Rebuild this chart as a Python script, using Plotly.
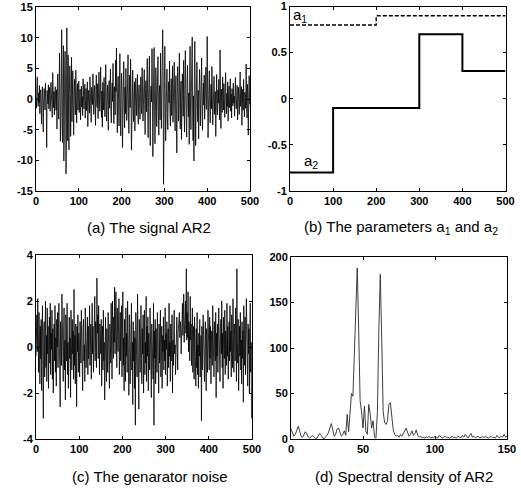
import plotly.graph_objects as go

# ---------------- data ----------------
signal_ar2 = [
    0.3, -1.5, 2.1, 3.6, 0.4, -1.2, 1.0, -0.6, 2.2, -2.4, 0.8, 1.5, -0.9, -4.1, 0.6, 2.0, -1.1, -5.4, -0.3, 1.7, 0.9, -1.8, 2.6, 0.2, -1.3,
    -7.9, 1.4, 0.6, -0.8, 2.3, -1.6, 0.5, 1.9, -2.0, -0.4, 2.7, 0.9, -1.7, -3.0, 4.3, 0.5, -1.4, 1.2, -2.6, 0.3, 2.0, -0.9, -1.9, 1.5, -4.9,
    2.4, 4.1, -1.0, -3.3, 0.8, 7.5, 1.2, -6.9, -2.8, 3.4, 11.3, -4.3, -7.1, 2.9, 8.7, -10.1, -6.2, 5.5, 7.8, 2.1, -12.2, -8.4, 11.6, 3.5, -6.8,
    7.2, -1.5, -8.3, 0.9, 5.4, 2.2, -6.1, -1.0, 6.8, -3.7, -0.4, 4.6, -2.1, -5.9, 1.3, 3.2, -0.8, -2.6, 4.7, 0.6, -3.9, 1.1, 2.5, -1.8, -0.3,
    2.9, -2.2, -0.7, 1.6, -3.4, 0.9, 2.1, -1.3, 0.4, -2.7, 3.3, 0.6, -1.6, -0.2, 2.4, -3.1, 0.8, 1.7, -1.9, 0.3, 2.8, -4.5, -0.6, 1.4, 0.2,
    -2.3, 3.6, 0.5, -1.2, -3.8, 1.9, 0.7, -0.9, 4.1, -1.7, -2.5, 0.4, 2.2, -0.5, -4.3, 1.6, 3.9, -0.8, -1.4, 2.5, -3.2, 0.1, 4.4, -1.1, -2.0,
    0.9, 5.2, -0.6, -3.0, 1.3, -4.6, 2.7, 0.4, -1.8, 3.5, 0.2, -2.9, 1.5, 5.6, -1.0, -3.6, 0.7, 2.3, -0.9, -5.1, 1.8, 3.0, -1.5, 0.6, 4.9,
    -2.2, -3.9, 1.1, 2.6, -0.4, 5.8, -1.7, -4.0, 2.0, 0.9, -2.6, 6.3, 1.2, 8.3, -3.1, -5.5, 1.4, 3.7, -0.2, -4.4, 2.9, 7.4, -1.8, -6.0, 0.5,
    4.2, 1.6, -7.9, -2.3, 3.1, 6.1, -0.7, -4.7, 1.9, -2.4, 5.0, 0.8, -3.5, -1.1, 2.6, 7.2, -2.0, -5.6, 0.6, 3.9, -1.4, 6.5, 1.0, -8.3, -3.0,
    2.2, 4.7, -1.5, -3.7, 0.5, 2.8, -5.2, -0.6, 3.4, 1.1, -2.7, 0.3, 4.0, -1.9, -4.1, 1.4, 2.3, -0.8, -3.3, 0.9, 3.6, -1.2, -2.4, 5.1, 0.4,
    -3.6, -1.0, 2.5, 4.8, -0.9, -5.8, 1.7, 3.0, -2.1, 0.6, 6.6, -1.4, -6.3, 0.2, 4.4, 7.0, -2.9, -7.6, 1.3, 2.1, -0.5, 8.2, 0.7, -9.4, -3.8,
    4.6, 8.4, -1.1, -7.3, -2.0, 5.1, 2.7, -4.5, -0.8, 3.6, 6.9, -2.6, -5.9, 0.9, 2.2, -3.4, 7.5, 1.8, -4.8, -1.3, 3.4, 11.3, 4.2, -13.9, -6.0,
    3.0, 8.6, -0.4, -6.8, -2.2, 1.4, 4.9, -3.1, -5.0, 1.0, 2.8, -0.6, 6.2, -1.9, -4.4, 0.8, 3.3, -2.7, 0.2, 5.4, -3.8, -1.5, 2.0, 6.0, -0.9,
    -5.2, 1.7, 3.8, -2.5, -8.8, 0.4, 5.3, 2.1, -3.6, -1.2, 7.5, 0.6, -4.9, 1.5, 2.9, -6.6, -0.7, 4.1, 1.2, -2.8, 6.3, -1.6, -5.4, 2.4, 7.9,
    0.8, -4.3, -6.2, 2.6, 5.5, -0.3, -2.9, 1.0, -7.4, 3.7, 8.6, -1.8, -5.0, 1.1, 4.2, 10.1, -2.4, -6.8, 0.5, -10.1, 3.4, 9.4, 1.6, -7.6, -2.1,
    2.3, 6.0, -0.8, -3.7, 1.4, -6.5, 0.6, 4.8, 2.0, -4.4, -1.3, 3.1, 6.7, -2.2, -5.1, 0.7, 2.6, -1.0, 3.9, -3.3, -0.5, 2.2, 5.2, -1.7, -0.4,
    10.2, 0.9, -6.3, -2.0, 1.8, 4.6, -1.2, -3.9, 0.3, 2.4, -1.6, 5.3, 0.5, -4.2, -0.8, 2.0, 3.7, -2.5, -0.4, 1.2, -6.1, 0.8, 4.0, -1.3, -2.6,
    1.5, -0.7, 3.2, 1.0, -3.4, 8.0, -0.9, -4.8, 1.6, 0.4, -2.2, 3.6, -0.6, -1.8, 2.5, 0.2, -3.0, 1.3, 4.3, -0.5, -2.4, 0.9, -1.2, 2.8, -3.6,
    0.6, 2.1, -1.4, -0.3, 3.3, -2.0, 0.8, -3.1, 1.7, 0.2, -1.1, 2.6, -0.7, 0.5, -2.8, 1.3, 3.5, -0.9, -1.6, 0.4, 2.2, -3.4, 0.7, 1.9, -0.6,
    -2.5, 1.0, 4.4, -1.2, -0.2, 2.0, -4.3, 0.9, 1.6, -1.8, 3.2, -0.4, -2.9, 1.1, 0.3, -1.5, 5.7, -0.8, -3.1, 2.4, 0.6, -5.9, 1.3, 3.8, -0.9,
]

generator_noise = [
    -0.4, 0.8, 1.4, -0.2, 2.1, 0.6, -1.1, 1.5, 0.3, -1.6, 0.9, -0.5, 1.2, -1.9, 0.4, 1.8, -0.8, -3.1, 0.7, 1.1, -1.3, 0.2, 2.0, -0.9, 0.5,
    -1.5, 1.7, -0.3, 0.9, -1.8, 0.1, 1.3, -0.7, 1.9, -1.2, 0.6, -0.1, 1.6, -1.4, 0.8, -2.0, 0.3, 1.0, -0.6, 1.8, -1.1, 0.4, -1.7, 1.2, 0.0,
    1.5, -0.9, 0.7, 1.9, -1.3, 0.2, -2.6, 1.1, 0.5, -0.8, 2.3, -0.4, 1.0, -1.5, 0.6, 1.7, -1.0, 0.3, -2.3, 1.4, 0.8, -0.6, 1.9, -1.2, 0.2,
    -1.8, 0.9, 1.3, -0.5, 0.4, -2.2, 1.6, 0.1, -1.0, 1.2, -0.3, 0.7, -1.4, 2.5, -0.8, 0.5, -1.6, 1.0, 0.3, -2.6, 0.9, -0.2, 1.4, -1.1, 0.6,
    0.2, -1.3, 1.1, 0.5, -0.7, 1.6, -0.4, 0.3, -1.9, 0.8, 1.2, -0.6, 0.1, -1.5, 1.7, 0.4, -0.9, 0.6, -0.2, 1.3, -1.2, 0.9, -0.5, 0.2, 1.8,
    -0.8, 0.5, 1.0, -1.4, 0.7, 1.9, -0.3, 0.9, -1.1, 1.5, 0.4, 2.2, -0.6, 1.1, 0.3, -0.9, 3.0, 0.6, 1.4, -0.5, 1.8, 0.2, -1.2, 1.0, 0.5,
    -0.3, 1.2, -1.7, 0.4, 0.9, -1.0, 1.6, -0.6, 0.2, -2.3, 0.7, 1.3, -0.4, -1.5, 0.8, 0.1, -1.1, 1.5, -0.2, 0.6, -1.8, 1.0, 0.3, -0.7, 1.9,
    0.5, -1.4, 2.0, 0.8, -0.5, 1.3, 0.2, 2.6, -0.3, 1.1, 2.4, 0.6, -0.9, 1.7, 0.4, -0.2, 1.0, 2.1, -1.2, 0.7, 1.5, -0.6, 0.3, 1.8, -1.3,
    0.9, 2.4, -0.8, 0.4, -1.9, 1.2, 0.1, -1.5, 1.7, -0.4, 0.6, -1.1, 2.0, -0.7, 0.3, -2.1, 1.4, 0.8, -1.6, 0.5, -0.3, 1.9, -1.0, 0.2, -2.5,
    1.1, -0.6, 0.7, -1.8, 0.4, -3.4, 1.5, -0.2, 0.9, -1.3, 2.3, -0.9, 0.3, -2.7, 1.2, 0.6, -1.1, 0.1, 1.8, -0.5, -1.6, 0.8, -0.3, 1.4, -2.0,
    0.5, 1.6, -1.2, 0.2, -0.7, 2.2, -1.5, 0.9, -0.4, 1.3, -1.9, 0.6, 0.0, -1.0, 1.7, -0.6, 0.4, -2.2, 1.0, -0.8, 0.3, -1.4, 1.9, -3.4, 0.7,
    -0.5, 1.2, -1.6, 0.8, 0.2, -1.1, 1.5, -0.3, 0.6, -2.0, 1.0, -0.7, 0.4, 1.6, -1.3, 0.1, 0.9, -1.8, 0.5, -0.2, 1.3, -1.0, 0.3, -0.6, 1.7,
    -1.2, 0.6, -0.1, 1.1, -1.7, 0.4, 0.8, -0.9, 1.9, -0.4, 0.2, -1.5, 1.0, -0.6, 0.5, 1.4, -2.0, 0.3, -0.8, 0.9, 1.6, -0.3, 0.1, -1.2, 0.7,
    -0.5, 1.3, 0.2, -1.0, 0.6, 1.2, 0.8, 1.5, 0.4, 1.1, 0.9, -0.3, 1.4, 0.7, 1.9, 0.5, 1.0, 2.3, 0.2, 1.6, 0.8, 2.0, 0.6, 3.4, 0.3,
    1.5, 0.4, 2.4, -0.2, 1.1, 0.7, -0.6, 2.2, 0.3, 1.0, -0.8, 0.5, 1.7, -1.1, 0.2, 0.9, -1.4, 1.3, -0.5, 0.4, -1.7, 0.8, -0.9, 1.5, -1.2,
    0.1, -1.8, 0.6, -0.4, 1.2, -1.3, -0.2, 0.5, -3.2, 0.9, -1.0, 0.3, 1.4, -0.7, 0.6, -1.5, 0.2, 1.1, -0.6, -1.9, 0.8, 0.1, -1.1, 1.6, -0.3,
    0.4, -1.0, 1.3, -0.5, 0.9, -1.6, 0.2, 0.7, -0.8, 1.8, -0.2, 0.5, -1.3, 1.1, 0.0, -0.6, 1.5, -2.2, 0.6, -0.4, 1.0, -1.1, 0.3, 1.7, -0.7,
    0.8, -1.5, 0.4, 1.2, -0.3, 2.0, -0.9, 0.6, -1.8, 1.3, 0.2, -0.5, 1.6, -1.2, 0.7, 0.1, -0.8, 1.9, -0.4, 0.9, -1.4, 0.5, 1.1, -0.6, 1.8,
    -0.2, 0.7, -1.3, 1.4, 0.3, -0.9, 2.1, 0.5, -1.1, 1.0, 0.4, -0.6, 1.7, 0.8, -1.5, 3.4, 0.2, -0.7, 1.2, -1.9, 0.6, 0.9, -0.4, 1.5, -1.0,
    0.3, -1.6, 1.1, -0.5, 0.7, -2.4, 1.8, 0.2, -0.8, 1.3, -1.2, 0.5, 2.1, -0.9, 0.4, -1.7, 1.0, -0.3, 0.8, -2.0, 0.6, 1.9, -1.1, 0.2, -3.1,
]

spectral_density = [
    11, 6, 3, 5, 10, 14, 9, 3, 2, 5, 8, 6, 2, 1, 3, 4, 2, 0.5, 1, 3,
    6, 4, 1, 0.5, 2, 4, 7, 12, 17, 10, 3, 5, 11, 12, 7, 3, 5, 9, 4, 27,
    8, 30, 50, 47, 95, 160, 188, 120, 42, 30, 12, 36, 8, 5, 38, 28, 12, 20, 2, 1,
    30, 120, 181, 110, 30, 18, 16, 20, 38, 40, 25, 10, 5, 3, 4, 2, 5, 3, 6, 10,
    12, 7, 3, 5, 9, 4, 6, 10, 4, 2, 3, 1.5, 2, 1, 2.5, 1.5, 3, 1, 2, 1.5,
    3, 2, 1, 4, 2, 1, 2, 3, 1.5, 2, 1, 2.5, 3, 1.5, 2, 1, 3, 2, 1.5, 4,
    2, 5, 3, 1, 4, 6, 2, 3, 1.5, 2, 3, 1, 2, 2.5, 1.5, 3, 2, 1, 2, 3,
    1.5, 2, 1, 4, 2, 1.5, 3, 2, 5, 2, 3,
]

param_x = [0, 100, 200, 300, 400, 500]
param_a1 = [0.8, 0.8, 0.9, 0.9, 0.9, 0.9]
param_a2 = [-0.8, -0.1, -0.1, 0.7, 0.3, 0.3]

ticks_500 = [0, 100, 200, 300, 400, 500]
ticks_500_text = ["0", "100", "200", "300", "400", "500"]
ticks_a_y = [-15, -10, -5, 0, 5, 10, 15]
ticks_a_y_text = ["-15", "-10", "-5", "0", "5", "10", "15"]
ticks_b_y = [-1, -0.5, 0, 0.5, 1]
ticks_b_y_text = ["-1", "-0.5", "0", "0.5", "1"]
ticks_c_y = [-4, -2, 0, 2, 4]
ticks_c_y_text = ["-4", "-2", "0", "2", "4"]
ticks_d_x = [0, 50, 100, 150]
ticks_d_x_text = ["0", "50", "100", "150"]
ticks_d_y = [0, 50, 100, 150, 200]
ticks_d_y_text = ["0", "50", "100", "150", "200"]

captions = ["(a) The signal AR2", "(b) The parameters a<sub>1</sub> and a<sub>2</sub>",
            "(c) The genarator noise", "(d) Spectral density of AR2"]

# ---------------- figure ----------------
W, H = 521, 488
fig = go.Figure()

fig.add_trace(go.Scatter(x=list(range(len(signal_ar2))), y=signal_ar2, mode="lines",
                         line=dict(color="black", width=0.8), xaxis="x", yaxis="y", showlegend=False))
fig.add_trace(go.Scatter(x=param_x, y=param_a1, mode="lines", line_shape="hv",
                         line=dict(color="black", width=1.4, dash="4px,2px"), xaxis="x2", yaxis="y2", showlegend=False))
fig.add_trace(go.Scatter(x=param_x, y=param_a2, mode="lines", line_shape="hv",
                         line=dict(color="black", width=2), xaxis="x2", yaxis="y2", showlegend=False))
fig.add_trace(go.Scatter(x=list(range(len(generator_noise))), y=generator_noise, mode="lines",
                         line=dict(color="black", width=0.8), xaxis="x3", yaxis="y3", showlegend=False))
fig.add_trace(go.Scatter(x=list(range(len(spectral_density))), y=spectral_density, mode="lines",
                         line=dict(color="#2a2a2a", width=0.9), xaxis="x4", yaxis="y4", showlegend=False))

tickfont = dict(family="Liberation Sans, Arial, sans-serif", size=11, color="black")


def bold(labels):
    return ["<b>%s</b>" % t for t in labels]


def ax(domain, rng, tv, tt, anchor):
    return dict(domain=domain, range=rng, tickvals=tv, ticktext=bold(tt), anchor=anchor,
                showline=True, mirror="ticks", linecolor="black", linewidth=1,
                ticks="inside", ticklen=3, tickcolor="black", showgrid=False, zeroline=False,
                tickfont=tickfont, fixedrange=True, automargin=False)


def px_x(a, b):
    return [a / W, b / W]


def px_y(top, bottom):
    return [1 - bottom / H, 1 - top / H]


fig.update_layout(
    width=W, height=H, margin=dict(l=0, r=0, t=0, b=0),
    paper_bgcolor="white", plot_bgcolor="white",
    xaxis=ax(px_x(36, 250), [0, 500], ticks_500, ticks_500_text, "y"),
    yaxis=ax(px_y(7, 191), [-15, 15], ticks_a_y, ticks_a_y_text, "x"),
    xaxis2=ax(px_x(290, 505.5), [0, 500], ticks_500, ticks_500_text, "y2"),
    yaxis2=ax(px_y(6.5, 191), [-1, 1], ticks_b_y, ticks_b_y_text, "x2"),
    xaxis3=ax(px_x(36, 252), [0, 500], ticks_500, ticks_500_text, "y3"),
    yaxis3=ax(px_y(255, 439), [-4, 4], ticks_c_y, ticks_c_y_text, "x3"),
    xaxis4=ax(px_x(291, 507), [0, 150], ticks_d_x, ticks_d_x_text, "y4"),
    yaxis4=ax(px_y(257, 439), [0, 200], ticks_d_y, ticks_d_y_text, "x4"),
)

cap_font = dict(family="Liberation Sans, Arial, sans-serif", size=15, color="black")
cap_pos = [(149, 227), (401, 228), (150, 476), (404, 476)]
for text, (cx, cy) in zip(captions, cap_pos):
    fig.add_annotation(x=cx / W, y=1 - cy / H, xref="paper", yref="paper", text=text,
                       showarrow=False, font=cap_font, xanchor="center", yanchor="middle")

lab_font = dict(family="Liberation Sans, Arial, sans-serif", size=15, color="black")
fig.add_annotation(x=24, y=0.9, xref="x2", yref="y2", text="a<sub>1</sub>", showarrow=False,
                   font=lab_font, xanchor="center", yanchor="middle")
fig.add_annotation(x=49, y=-0.68, xref="x2", yref="y2", text="a<sub>2</sub>", showarrow=False,
                   font=lab_font, xanchor="center", yanchor="middle")

# remove the default 8px page margin so the figure sits at the window's corner
fig.write_html("out.html", config={"displayModeBar": False},
               post_script="document.body.style.margin='0';")
